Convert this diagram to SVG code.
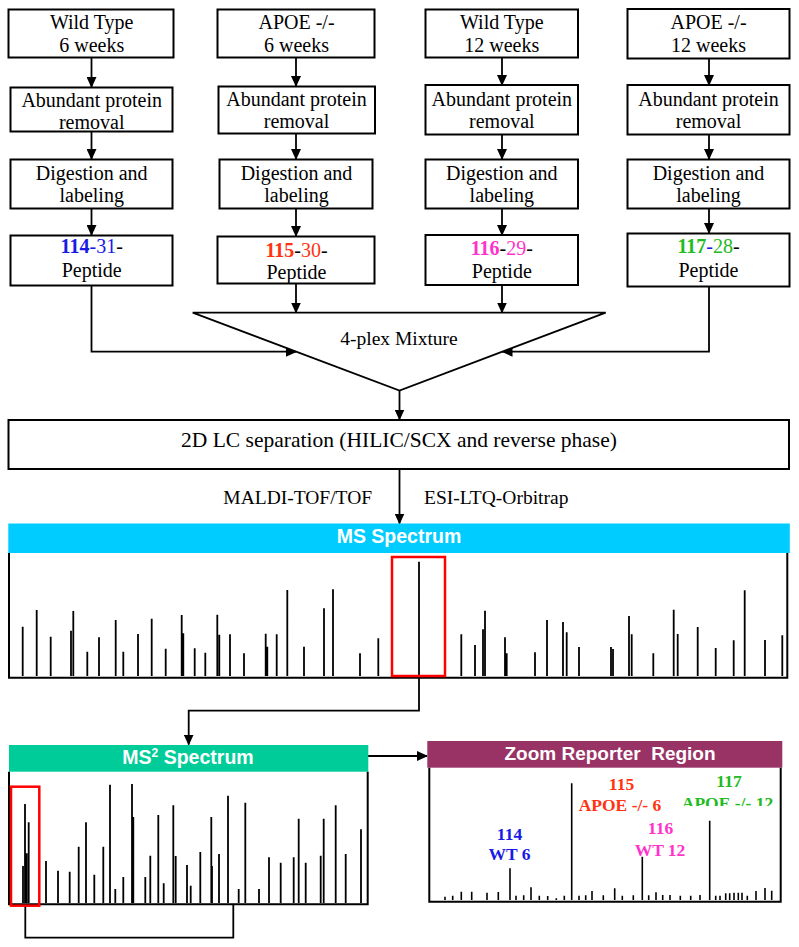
<svg xmlns="http://www.w3.org/2000/svg" width="799" height="947" viewBox="0 0 799 947">
<style>
.t{font-family:"Liberation Serif","Times New Roman",serif;font-size:20px;text-anchor:middle;fill:#000}
.box{fill:#fff;stroke:#000;stroke-width:2}
.conn{fill:none;stroke:#000;stroke-width:1.8}
.pk{fill:none;stroke:#000;stroke-width:1.8}
.axis{fill:none;stroke:#000;stroke-width:2}
.red{fill:none;stroke:#ff0000;stroke-width:2.5}
.hd{font-family:"Liberation Sans",Arial,sans-serif;font-weight:bold;fill:#fff;text-anchor:middle}
.b{font-weight:bold}
.blue{fill:#1a1ae6}.redt{fill:#ff3311}.mag{fill:#ff33cc}.grn{fill:#22bb22}
.rl{font-family:"Liberation Serif","Times New Roman",serif;font-size:17.5px;font-weight:bold;text-anchor:middle}
</style>
<defs>
<marker id="ah" markerUnits="userSpaceOnUse" markerWidth="11" markerHeight="10" refX="10" refY="5" orient="auto">
<path d="M0,0 L11,5 L0,10 z" fill="#000"/>
</marker>
<clipPath id="clip117"><rect x="660" y="770" width="130" height="36"/></clipPath>
</defs>

<g id="connectors">
<path class="conn" d="M91.5,57.5V87" marker-end="url(#ah)"/>
<path class="conn" d="M91.5,131.5V159" marker-end="url(#ah)"/>
<path class="conn" d="M91.5,208.5V235" marker-end="url(#ah)"/>
<path class="conn" d="M296,57.5V86" marker-end="url(#ah)"/>
<path class="conn" d="M296,133.5V159" marker-end="url(#ah)"/>
<path class="conn" d="M296,208.5V236" marker-end="url(#ah)"/>
<path class="conn" d="M502,57.5V85" marker-end="url(#ah)"/>
<path class="conn" d="M502,134.5V159" marker-end="url(#ah)"/>
<path class="conn" d="M502,208.5V235" marker-end="url(#ah)"/>
<path class="conn" d="M709,58.5V85" marker-end="url(#ah)"/>
<path class="conn" d="M709,134.5V159" marker-end="url(#ah)"/>
<path class="conn" d="M709,208.5V233" marker-end="url(#ah)"/>
<path class="conn" d="M91.5,285.5V351.7H296" marker-end="url(#ah)"/>
<path class="conn" d="M296,283.5V312.5" marker-end="url(#ah)"/>
<path class="conn" d="M502,285V312.5" marker-end="url(#ah)"/>
<path class="conn" d="M709,286.5V351.7H502.5" marker-end="url(#ah)"/>
<path class="conn" d="M399.5,390.5V419.5" marker-end="url(#ah)"/>
<path class="conn" d="M399.5,469V523.5" marker-end="url(#ah)"/>
<path class="conn" d="M419,677V710.7H188.7V744.5" marker-end="url(#ah)"/>
<path class="conn" d="M368,756H427" marker-end="url(#ah)"/>
<path class="conn" d="M25.3,905.7V937.7H233.3V904.3"/>
</g>

<g id="n-wt6">
<rect class="box" x="8.5" y="9.5" width="165" height="48"/>
<text class="t" x="91.7" y="29.3">Wild Type</text>
<text class="t" x="91.7" y="51.7">6 weeks</text>
</g>
<g id="n-apoe6">
<rect class="box" x="217.5" y="9.5" width="157" height="48"/>
<text class="t" x="296.5" y="29">APOE -/-</text>
<text class="t" x="296.5" y="51.7">6 weeks</text>
</g>
<g id="n-wt12">
<rect class="box" x="425.5" y="9.5" width="152.5" height="48"/>
<text class="t" x="501.8" y="29.3">Wild Type</text>
<text class="t" x="501.8" y="51.7">12 weeks</text>
</g>
<g id="n-apoe12">
<rect class="box" x="627.5" y="9" width="162" height="49.5"/>
<text class="t" x="708.5" y="29.3">APOE -/-</text>
<text class="t" x="708.5" y="51.7">12 weeks</text>
</g>

<g id="n-abund1">
<rect class="box" x="10.5" y="87.5" width="162" height="44"/>
<text class="t" x="91.7" y="107.3">Abundant protein</text>
<text class="t" x="91.7" y="129.3">removal</text>
</g>
<g id="n-abund2">
<rect class="box" x="218.5" y="86.5" width="156.5" height="47"/>
<text class="t" x="296.5" y="106">Abundant protein</text>
<text class="t" x="296.5" y="128.3">removal</text>
</g>
<g id="n-abund3">
<rect class="box" x="425.5" y="85" width="152.5" height="49.5"/>
<text class="t" x="501.8" y="106">Abundant protein</text>
<text class="t" x="501.8" y="128.3">removal</text>
</g>
<g id="n-abund4">
<rect class="box" x="627.5" y="85" width="162" height="49.5"/>
<text class="t" x="708.5" y="106">Abundant protein</text>
<text class="t" x="708.5" y="128.3">removal</text>
</g>

<g id="n-dig1">
<rect class="box" x="10.5" y="159.5" width="162" height="49"/>
<text class="t" x="91.7" y="180">Digestion and</text>
<text class="t" x="91.7" y="201.7">labeling</text>
</g>
<g id="n-dig2">
<rect class="box" x="219.5" y="159.5" width="153" height="49"/>
<text class="t" x="296.5" y="180">Digestion and</text>
<text class="t" x="296.5" y="201.7">labeling</text>
</g>
<g id="n-dig3">
<rect class="box" x="425.5" y="159.5" width="152.5" height="49"/>
<text class="t" x="501.8" y="180">Digestion and</text>
<text class="t" x="501.8" y="201.7">labeling</text>
</g>
<g id="n-dig4">
<rect class="box" x="627.5" y="159.5" width="162" height="49"/>
<text class="t" x="708.5" y="180">Digestion and</text>
<text class="t" x="708.5" y="201.7">labeling</text>
</g>

<g id="n-pep114">
<rect class="box" x="10.5" y="235.5" width="162" height="50"/>
<text class="t" x="91.7" y="253.3"><tspan class="b blue">114</tspan><tspan class="blue">-31</tspan>-</text>
<text class="t" x="91.7" y="276.7">Peptide</text>
</g>
<g id="n-pep115">
<rect class="box" x="217.5" y="236.5" width="157" height="47"/>
<text class="t" x="296.5" y="257.3"><tspan class="b redt">115</tspan>-<tspan class="redt">30</tspan>-</text>
<text class="t" x="296.5" y="279.3">Peptide</text>
</g>
<g id="n-pep116">
<rect class="box" x="425.5" y="235" width="152.5" height="50"/>
<text class="t" x="501.8" y="255">
<tspan class="b mag">116</tspan>-<tspan class="mag">29</tspan>-</text>
<text class="t" x="501.8" y="277.7">Peptide</text>
</g>
<g id="n-pep117">
<rect class="box" x="627.5" y="233.5" width="162" height="53"/>
<text class="t" x="708.5" y="253.3"><tspan class="b grn">117</tspan><tspan class="blue">-</tspan><tspan class="grn">28</tspan>-</text>
<text class="t" x="708.5" y="276.7">Peptide</text>
</g>

<g id="n-mix">
<path d="M192.7,312.7H605.7L399.5,390.5Z" fill="#fff" stroke="#000" stroke-width="1.8"/>
<text class="t" x="399" y="345" style="font-size:19.5px">4-plex Mixture</text>
</g>

<g id="n-lc">
<rect class="box" x="8.5" y="420" width="780.5" height="49"/>
<text class="t" x="399" y="446.7" style="font-size:21.5px">2D LC separation (HILIC/SCX and reverse phase)</text>
</g>

<g id="labels-ms">
<text class="t" x="297.7" y="504.3" style="font-size:19.5px">MALDI-TOF/TOF</text>
<text class="t" x="496.2" y="504.3" style="font-size:19.5px">ESI-LTQ-Orbitrap</text>
</g>

<g id="n-ms">
<rect x="8.3" y="523.5" width="781.5" height="29.5" fill="#00ccff"/>
<text class="hd" x="399" y="542.7" style="font-size:19.5px">MS Spectrum</text>
<path class="axis" d="M9,553V677.7H787.3V553"/>
<path class="pk" d="M22.7,676V626.7M36.7,676V610M50.7,676V636.7M71,676V630.7M73.3,676V611M87.3,676V651.7M99,676V637.3M115.7,676V620M123.3,676V651.7M138,676V634M151.7,676V618.7M165.7,676V648.7M181.7,676V615M183.3,676V633.3M194.7,676V648.3M205.3,676V652.7M217.3,676V614.7M219.3,676V634.7M230,676V634.3M244,676V653.3M265.7,676V633.7M267.3,676V646.7M276.7,676V634.3M287.3,676V590M304,676V646.7M324,676V608.3M333,676V589.3M360,676V653.3M378.3,676V638.3M419,677V561.7M461.3,676V634.3M475,676V645M483,676V629.3M485,676V610.7M505,676V637.3M506.7,676V653.3M535,676V652.3M547,676V620M563,676V622M566.7,676V632.3M579,676V647M611,676V647M613,676V649M629,676V616M631.7,676V634.3M653.3,676V653.3M673.7,676V609.7M677.7,676V634M697.7,676V627M715.7,676V648M733.7,676V640.3M744.7,676V590.3M765,676V640M782.3,676V635.3"/>
<rect class="red" x="392" y="557" width="53" height="119"/>
</g>

<g id="n-ms2">
<rect x="9" y="745" width="359.3" height="26.7" fill="#00cc99"/>
<text class="hd" x="188" y="764.3" style="font-size:19.5px">MS<tspan style="font-size:12px" dy="-7">2</tspan><tspan dy="7"> Spectrum</tspan></text>
<path class="axis" d="M9,771.7V904.3H367.7V771.7"/>
<path class="pk" d="M23,903V866M25,903V804M26.7,903V853.3M28.7,903V822.3M46,903V861M58,903V870.7M69.7,903V871.7M78.7,903V846.7M86,903V822.3M94.3,903V874.7M103.3,903V846.7M110,903V784.7M115.3,903V889M123.3,903V877M132,903V784M133.3,903V817M145.3,903V877M150.3,903V855.7M158.3,903V815M163.7,903V883.3M173.3,903V805.3M175.7,903V856M187,903V865M190.7,903V885.7M200.3,903V852M211.3,903V817M212,903V866M219,903V854M228,903V795.7M238.7,903V889M245.3,903V802.7M259,903V889M269,903V857.3M280.7,903V862.7M293.7,903V857.3M298.7,903V818.7M305.7,903V862.7M320.7,903V855.7M323.7,903V818.7M335.7,903V805.3M345.7,903V854M361,903V829.3"/>
<rect class="red" x="11" y="786.7" width="28.3" height="119"/>
</g>

<g id="n-zoom">
<rect x="427.3" y="741" width="355" height="26.7" fill="#993366"/>
<text class="hd" x="610" y="760" style="font-size:19px;white-space:pre">Zoom Reporter  Region</text>
<path class="axis" d="M429.3,767.7V901.7H780.7V767.7"/>
<path class="pk" style="stroke-width:1.6" d="M445,900V896.7M452.7,900V895.7M461.3,900V891.7M471.7,900V891.7M487,900V892.7M498.3,900V892M516,900V895.7M523.7,900V895.3M531,900V887.3M539.3,900V895.7M547.7,900V896M556.3,900V898.3M564.3,900V895.7M579,900V895.7M585.7,900V895.3M592,900V891M603.3,900V895.3M614.7,900V888.3M622.3,900V895.7M633.3,900V895.3M648.7,900V895.3M656,900V892.3M662.7,900V895M670,900V895M680.3,900V895.7M690.7,900V895.7M700,900V895M715.7,900V895.7M720,900V895.7M725.7,900V893.3M729.7,900V893.3M734,900V892.7M738.3,900V892.7M742,900V892.7M747.3,900V895.7M756,900V891M765,900V888M771.7,900V890.7M510,900V868.3M571.7,900V783.3M642.3,900V856.7M709.7,900V820.7"/>
<text class="rl blue" x="509.5" y="840">114</text>
<text class="rl blue" x="509.5" y="860">WT 6</text>
<text class="rl redt" x="621.5" y="790">115</text>
<text class="rl redt" x="620" y="811">APOE -/- 6</text>
<text class="rl mag" x="660.5" y="834.3">116</text>
<text class="rl mag" x="660" y="855.5">WT 12</text>
<text class="rl grn" x="729" y="787">117</text>
<text class="rl grn" x="727.5" y="809" clip-path="url(#clip117)">APOE -/- 12</text>
</g>
</svg>
